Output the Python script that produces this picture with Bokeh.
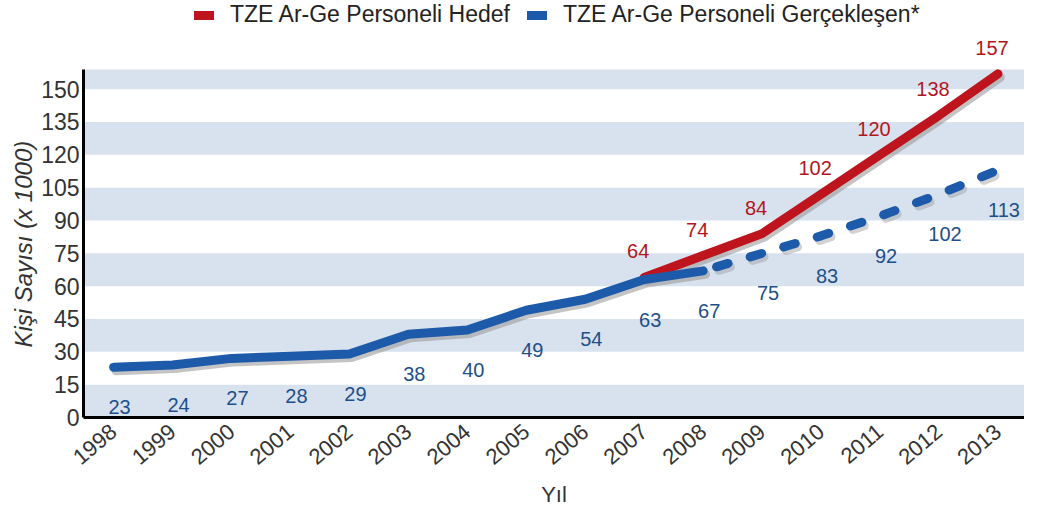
from bokeh.plotting import figure
from bokeh.models import ColumnDataSource, Range1d, FixedTicker, Legend, LegendItem, LabelSet, Title
from bokeh.core.properties import value
from bokeh.embed import file_html
from bokeh.resources import INLINE

# ---- data ----
years = [1998, 1999, 2000, 2001, 2002, 2003, 2004, 2005, 2006, 2007, 2008, 2009, 2010, 2011, 2012, 2013]
actual = [23, 24, 27, 28, 29, 38, 40, 49, 54, 63, 67, 75, 83, 92, 102, 113]
target_years = [2007, 2008, 2009, 2010, 2011, 2012, 2013]
target = [64, 74, 84, 102, 120, 138, 157]
last_real_year = 2008
y_ticks = [0, 15, 30, 45, 60, 75, 90, 105, 120, 135, 150]
target_name = "TZE Ar-Ge Personeli Hedef"
actual_name = "TZE Ar-Ge Personeli Gerçekleşen*"
x_title = "Yıl"
y_title = "Kişi Sayısı (x 1000)"

Y_TOP = 159        # top of the banded plot area
Y_VIEW = 190.5     # visible range (room for legend and top label)

FONT = "Liberation Sans"
RED = "#be141e"
BLUE = "#1e5aaa"
RED_TXT = "#b3151f"
BLUE_TXT = "#1d4f8a"
BAND = "#d8e2ee"
SHADOW = "#9c9c9c"

p = figure(width=1024, height=511, output_backend="svg", toolbar_location=None,
           x_range=Range1d(1997.49, 2013.45), y_range=Range1d(0, Y_VIEW),
           min_border_left=83, min_border_right=0, min_border_top=0, min_border_bottom=94)
p.outline_line_color = None
p.background_fill_color = "white"
p.border_fill_color = "white"
p.xgrid.visible = False
p.ygrid.visible = False

# alternating bands derived from the tick list
step = y_ticks[1] - y_ticks[0]
band_bottoms = y_ticks[0::2]
band_tops = [min(b + step, Y_TOP) for b in band_bottoms]
p.quad(left=1990, right=2020, bottom=band_bottoms, top=band_tops,
       fill_color=BAND, line_color=None)

# split actual series
split = years.index(last_real_year)
solid_x, solid_y = years[:split + 1], actual[:split + 1]
dash_x, dash_y = years[split:], actual[split:]

dx, dy = 0.04, 1.6
p.line([x + dx for x in target_years], [y - dy for y in target], line_width=9,
       line_color=SHADOW, line_alpha=0.6, line_cap="round", line_join="round")
p.line([x + dx for x in solid_x], [y - dy for y in solid_y], line_width=9,
       line_color=SHADOW, line_alpha=0.6, line_cap="round", line_join="round")
p.line([x + dx for x in dash_x], [y - dy for y in dash_y], line_width=9,
       line_color=SHADOW, line_alpha=0.45, line_cap="round", line_join="round",
       line_dash="12 23", line_dash_offset=-14)

red = p.line(target_years, target, line_width=9, line_color=RED,
             line_cap="round", line_join="round")
blue = p.line(solid_x, solid_y, line_width=9, line_color=BLUE,
              line_cap="round", line_join="round")
p.line(dash_x, dash_y, line_width=9, line_color=BLUE, line_cap="round",
       line_join="round", line_dash="12 23", line_dash_offset=-14)

# value labels
src_a = ColumnDataSource(dict(x=years, y=actual, t=[str(v) for v in actual]))
src_t = ColumnDataSource(dict(x=target_years, y=target, t=[str(v) for v in target]))
p.add_layout(LabelSet(x="x", y="y", text="t", source=src_a, x_offset=6, y_offset=-40,
                      text_align="center", text_baseline="middle", text_color=BLUE_TXT,
                      text_font=value(FONT), text_font_size="20px"))
p.add_layout(LabelSet(x="x", y="y", text="t", source=src_t, x_offset=-6, y_offset=26,
                      text_align="center", text_baseline="middle", text_color=RED_TXT,
                      text_font=value(FONT), text_font_size="20px"))

# axes
p.xaxis.ticker = FixedTicker(ticks=years)
p.yaxis.ticker = FixedTicker(ticks=y_ticks)
p.yaxis.bounds = (0, Y_TOP)
for ax in (p.xaxis[0], p.yaxis[0]):
    ax.axis_line_color = "black"
    ax.axis_line_width = 3
    ax.major_tick_line_color = None
    ax.minor_tick_line_color = None
    ax.major_tick_out = 0
    ax.major_tick_in = 0
    ax.major_label_text_font = FONT
    ax.major_label_text_color = "#333333"
    ax.axis_label_text_font = FONT
    ax.axis_label_text_color = "#333333"
    ax.axis_label_text_font_style = "normal"

p.yaxis.major_label_text_font_size = "23px"
p.yaxis.major_label_standoff = 4

# y title as a side title, placed along the banded area
p.add_layout(Title(text=y_title, align="left", offset=70, standoff=4,
                   text_font=FONT, text_font_size="24px", text_font_style="italic",
                   text_color="#333333"), "left")

p.xaxis.major_label_text_font_size = "22px"
p.xaxis.major_label_orientation = 0.7
p.xaxis.major_label_standoff = 11
p.xaxis.axis_label = x_title
p.xaxis.axis_label_text_font_size = "22px"
p.xaxis.axis_label_standoff = 7

legend = Legend(items=[LegendItem(label=target_name, renderers=[red]),
                       LegendItem(label=actual_name, renderers=[blue])],
                orientation="horizontal", location=(111, 389),
                label_text_font=FONT, label_text_font_size="23px",
                label_text_color="#222222",
                glyph_width=20, glyph_height=20, label_standoff=16, spacing=17,
                padding=0, margin=0, background_fill_alpha=0, border_line_alpha=0)
p.add_layout(legend, "center")

open("out.html", "w").write(file_html(p, INLINE))
